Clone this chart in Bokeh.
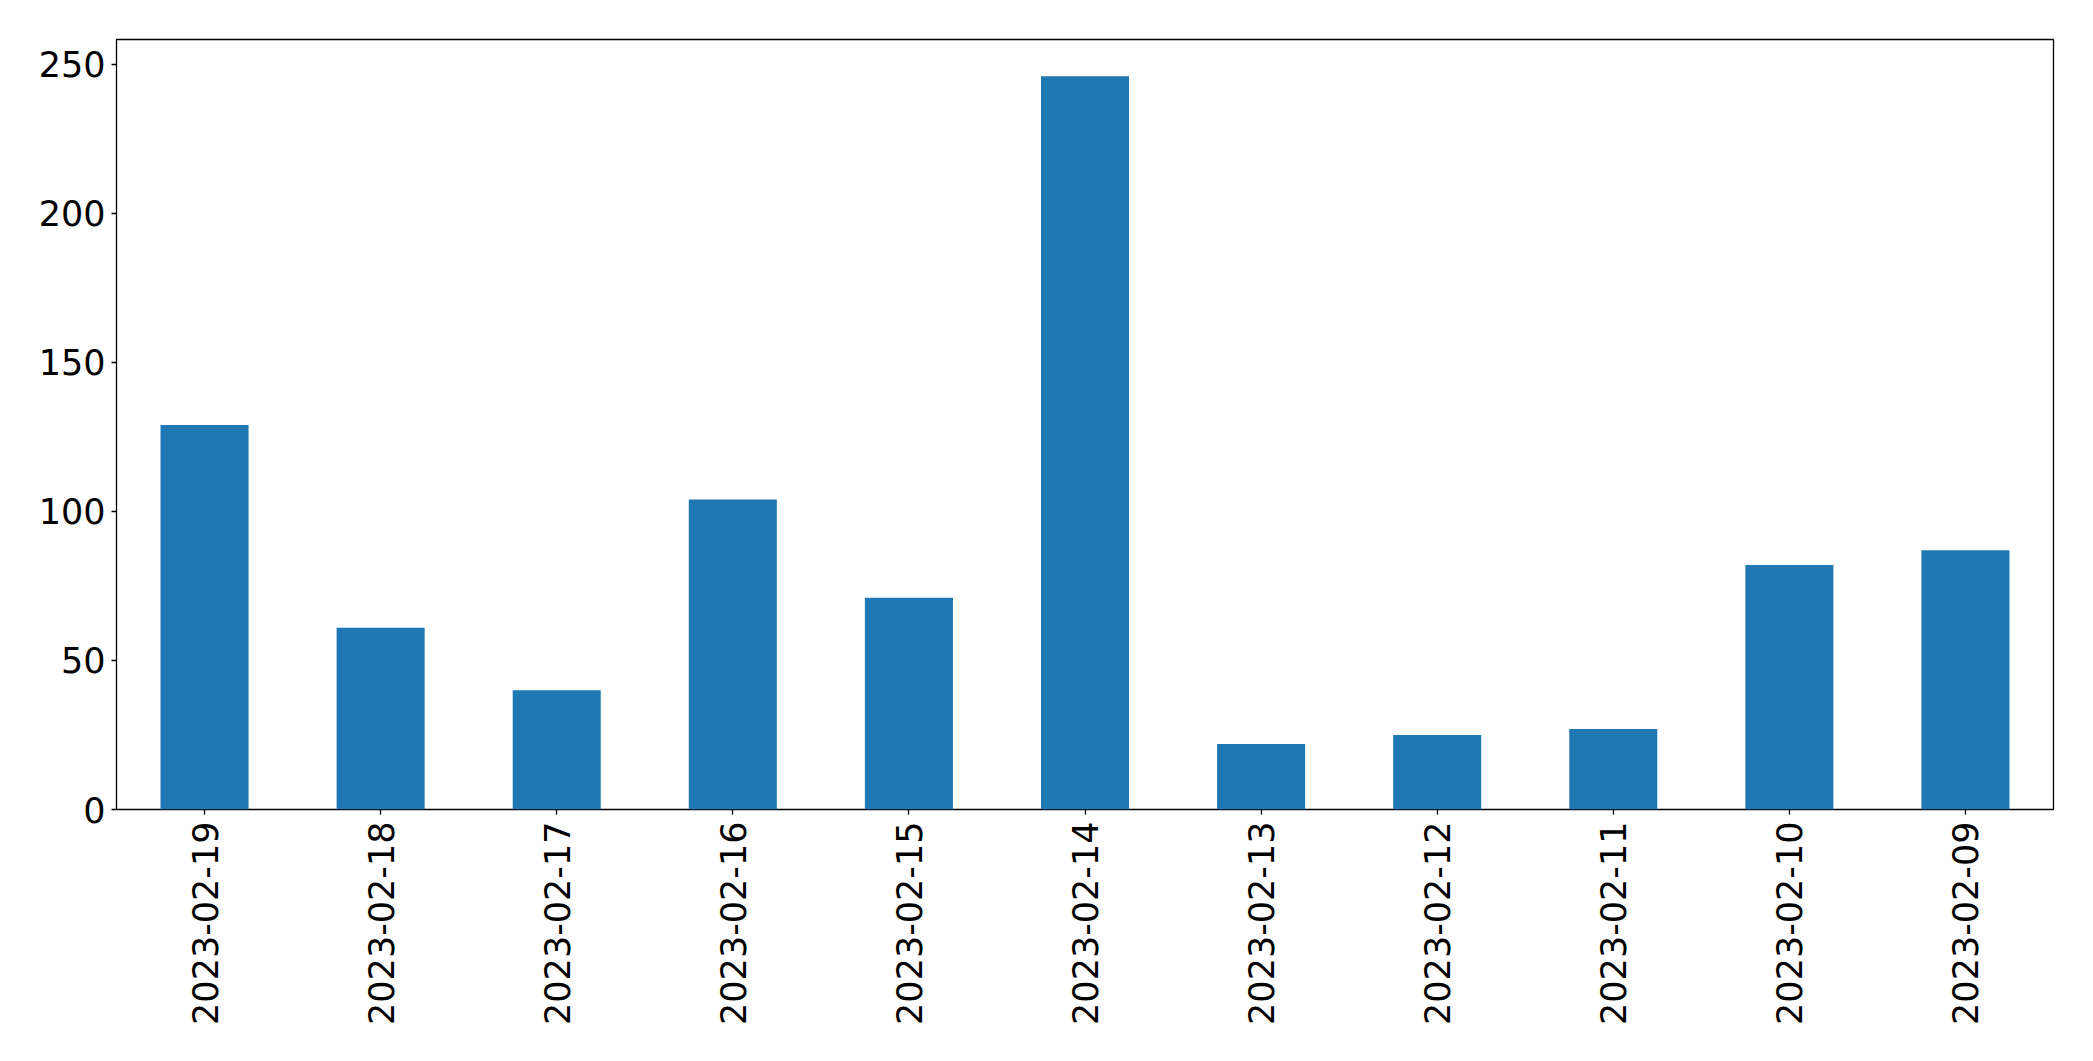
import math
from bokeh.plotting import figure
from bokeh.models import ColumnDataSource, FactorRange, Range1d
from bokeh.embed import file_html
from bokeh.resources import INLINE

dates = ["2023-02-19", "2023-02-18", "2023-02-17", "2023-02-16", "2023-02-15",
         "2023-02-14", "2023-02-13", "2023-02-12", "2023-02-11", "2023-02-10",
         "2023-02-09"]
counts = [129, 61, 40, 104, 71, 246, 22, 25, 27, 82, 87]
y_ticks = [0, 50, 100, 150, 200, 250]

src = ColumnDataSource(dict(x=dates, top=counts))

p = figure(width=2085, height=1053, output_backend="svg", toolbar_location=None,
           x_range=FactorRange(factors=dates), y_range=Range1d(0, max(counts) * 1.05),
           min_border_left=116, min_border_right=32, min_border_top=39, min_border_bottom=244)

p.vbar(x="x", top="top", width=0.5, source=src, fill_color="#1f77b4", line_color=None)

p.xgrid.grid_line_color = None
p.ygrid.grid_line_color = None
p.outline_line_color = "black"
p.outline_line_width = 1.3

for ax in (p.xaxis, p.yaxis):
    ax.axis_line_color = None
    ax.major_tick_out = 5
    ax.major_tick_in = 0
    ax.major_tick_line_color = "black"
    ax.major_tick_line_width = 1.3
    ax.minor_tick_line_color = None
    ax.major_label_text_font = "DejaVu Sans"
    ax.major_label_text_font_size = "35px"
    ax.major_label_text_color = "black"

p.yaxis.ticker = y_ticks
p.yaxis.major_label_standoff = 6
p.xaxis.major_label_orientation = math.pi / 2
p.xaxis.major_label_standoff = 7

open("out.html", "w").write(file_html(p, INLINE))
